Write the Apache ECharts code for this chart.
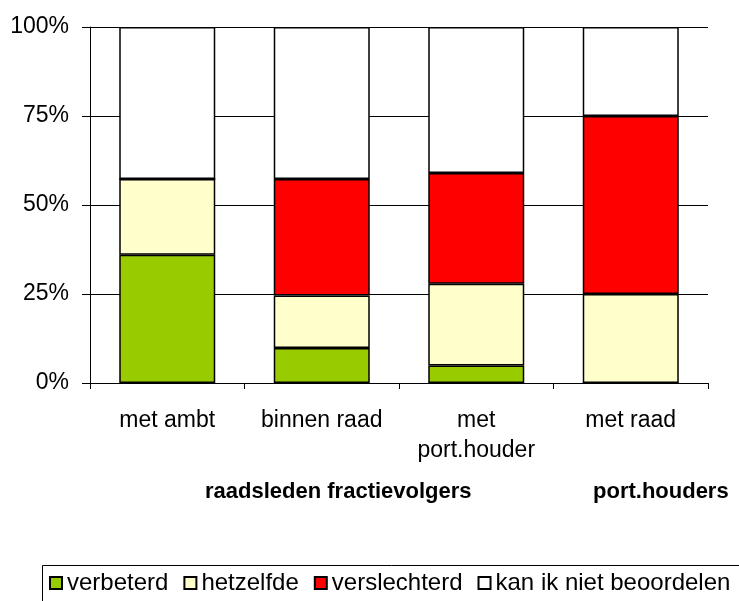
<!DOCTYPE html>
<html>
<head>
<meta charset="utf-8">
<script src="https://cdn.jsdelivr.net/npm/echarts@6/dist/echarts.min.js"></script>
<style>
html,body{margin:0;padding:0;background:#fff;}
#chart{width:739px;height:601px;}
</style>
</head>
<body>
<div id="chart"></div>
<script>
const categories = ['met ambt', 'binnen raad', 'met\nport.houder', 'met raad'];
const seriesNames = ['verbeterd', 'hetzelfde', 'verslechterd', 'kan ik niet beoordelen'];
const verbeterd = [36.0, 9.8, 4.9, 0];
const hetzelfde = [21.3, 14.8, 23.0, 25.0];
const verslechterd = [0, 32.7, 31.1, 50.0];
const kanNiet = [42.7, 42.7, 41.0, 25.0];
const yTicks = [0, 25, 50, 75, 100];
const groupLabels = ['raadsleden fractievolgers', 'port.houders'];

const colors = ['#99CC00', '#FFFFCC', '#FF0000', '#FFFFFF'];
const values = [verbeterd, hetzelfde, verslechterd, kanNiet];
const FONT = '"Liberation Sans", Arial, sans-serif';

const chart = echarts.init(document.getElementById('chart'), null, {renderer: 'canvas'});
chart.setOption({
  animation: false,
  backgroundColor: '#fff',
  textStyle: {fontFamily: FONT, color: '#000'},
  grid: {left: 90, right: 31, top: 27, bottom: 218, containLabel: false},
  xAxis: {
    type: 'category',
    data: categories,
    axisLine: {lineStyle: {color: '#000', width: 1}},
    axisTick: {show: true, length: 6, lineStyle: {color: '#000'}},
    axisLabel: {fontSize: 23, color: '#000', fontFamily: FONT, margin: 23, lineHeight: 30, interval: 0}
  },
  yAxis: {
    type: 'value',
    min: yTicks[0], max: yTicks[yTicks.length - 1], interval: 25,
    axisLine: {show: true, lineStyle: {color: '#000', width: 1}},
    axisTick: {show: true, length: 8, lineStyle: {color: '#000'}},
    axisLabel: {fontSize: 23, color: '#000', fontFamily: FONT, margin: 21, formatter: '{value}%'},
    splitLine: {show: true, lineStyle: {color: '#000', width: 1}}
  },
  legend: {
    data: seriesNames,
    left: 49, top: 571,
    icon: 'rect', itemWidth: 12, itemHeight: 12, itemGap: 15,
    textStyle: {fontSize: 24, color: '#000', fontFamily: FONT},
    padding: 0
  },
  graphic: [
    {type: 'rect', left: 40, top: 563, shape: {width: 760, height: 80}, style: {fill: 'none', stroke: '#000', lineWidth: 1}, z: 0, silent: true},
    {type: 'text', left: 205, top: 481, style: {text: groupLabels[0], font: 'bold 22px ' + FONT, fill: '#000'}},
    {type: 'text', left: 593, top: 481, style: {text: groupLabels[1], font: 'bold 22px ' + FONT, fill: '#000'}}
  ],
  series: seriesNames.map((n, i) => ({
    name: n,
    type: 'bar',
    stack: 'total',
    data: values[i],
    barWidth: 96,
    itemStyle: {color: colors[i], borderColor: '#000', borderWidth: 1.5}
  }))
});
</script>
</body>
</html>
